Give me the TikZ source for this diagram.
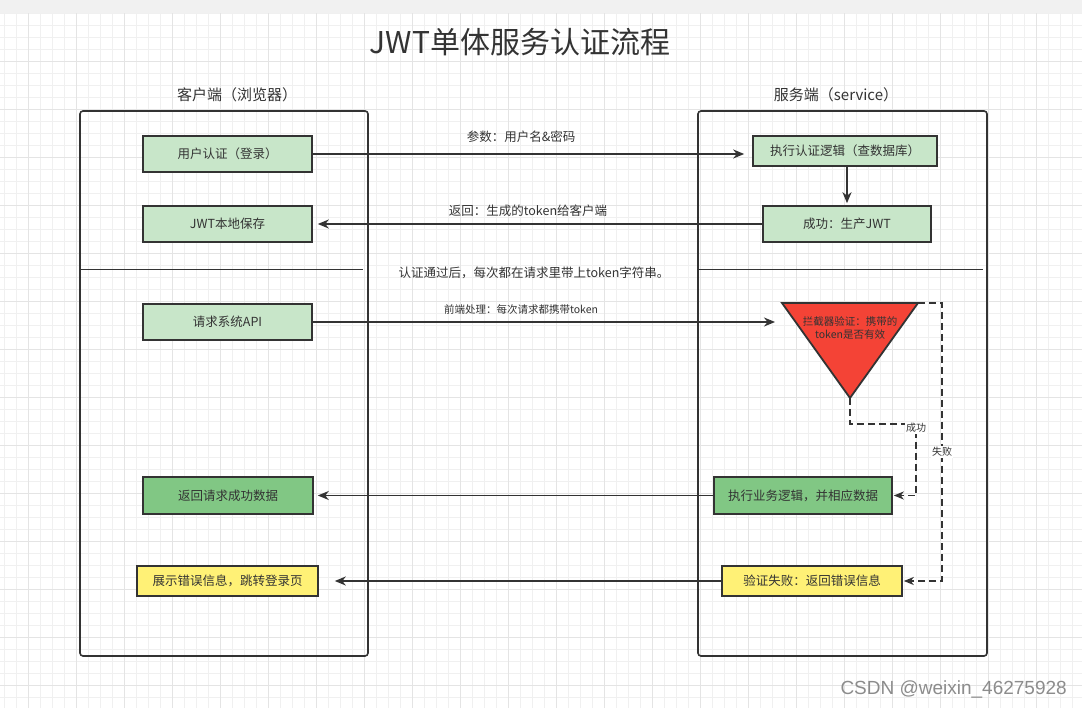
\documentclass[tikz,border=0pt]{standalone}
\usepackage{fontspec}
\setmainfont{Noto Sans CJK SC}
\newfontfamily\wmfont{Liberation Sans}
\usetikzlibrary{arrows.meta}
\definecolor{ink}{HTML}{333333}
\definecolor{topbar}{HTML}{F1F1F1}
\definecolor{gridminor}{HTML}{F0F0F0}
\definecolor{gridmajor}{HTML}{E4E4E4}
\definecolor{lgreen}{HTML}{C8E6C9}
\definecolor{mgreen}{HTML}{81C784}
\definecolor{lyellow}{HTML}{FFF176}
\definecolor{tred}{HTML}{F44336}
\definecolor{wmgray}{HTML}{8C8C8C}
\tikzset{
  fs/.style={font=\fontsize{#1}{\dimexpr #1pt*5/4\relax}\selectfont},
  box/.style={draw=ink, line width=1.6pt, text=ink, inner sep=0pt, fs=12.5},
  gbox/.style={box, fill=lgreen},
  mbox/.style={box, fill=mgreen},
  ybox/.style={box, fill=lyellow},
  container/.style={draw=ink, line width=1.6pt, rounded corners=3pt, fill=none},
  conn/.style={draw=ink, line width=1.8pt, -{Stealth[length=11pt,width=9pt,inset=3.5pt]}},
  dconn/.style={draw=ink, line width=1.6pt, dash pattern=on 7pt off 4pt, -{Stealth[length=10pt,width=8pt,inset=3pt]}},
  lbl/.style={text=ink, inner sep=0pt, fs=12.5},
  slbl/.style={text=ink, inner sep=1pt, fs=10, fill=white},
}
\begin{document}
\begin{tikzpicture}[x=1pt,y=-1pt]
\useasboundingbox (0,0) rectangle (1082,708);
\fill[white] (0,0) rectangle (1082,708);
% grid
\foreach \k in {0,...,90} {
  \pgfmathsetmacro\gx{4+12*\k}
  \draw[gridminor, line width=0.8pt] (\gx,13) -- (\gx,708);
}
\foreach \k in {0,...,58} {
  \pgfmathsetmacro\gy{13+12*\k}
  \draw[gridminor, line width=0.8pt] (0,\gy) -- (1082,\gy);
}
\foreach \k in {0,...,22} {
  \pgfmathsetmacro\gx{28+48*\k}
  \draw[gridmajor, line width=0.8pt] (\gx,13) -- (\gx,708);
}
\foreach \k in {0,...,14} {
  \pgfmathsetmacro\gy{61+48*\k}
  \draw[gridmajor, line width=0.8pt] (0,\gy) -- (1082,\gy);
}
\fill[topbar] (0,0) rectangle (1082,13);

% title
\node[text=ink, fs=30, inner sep=0pt] (title) at (520,42) {JWT单体服务认证流程};

% containers
\node[container, minimum width=288, minimum height=545] (client) at (224,383.5) {};
\node[container, minimum width=289, minimum height=545] (server) at (842.5,383.5) {};
\node[text=ink, fs=15, inner sep=0pt] (clientlbl) at (237,95) {客户端（浏览器）};
\node[text=ink, fs=15, inner sep=0pt] (serverlbl) at (836,95) {服务端（service）};

% separators
\draw[ink, line width=1pt] (80,270) -- (363,270);
\draw[ink, line width=1pt] (699,270) -- (983,270);
\node[lbl] (note) at (534,273) {认证通过后，每次都在请求里带上token字符串。};

% client boxes
\node[gbox, minimum width=169, minimum height=36] (auth) at (227.5,154) {用户认证（登录）};
\node[gbox, minimum width=169, minimum height=36] (save) at (227.5,224) {JWT本地保存};
\node[gbox, minimum width=169, minimum height=36] (req) at (227.5,322) {请求系统API};
\node[mbox, minimum width=170, minimum height=37] (okret) at (228,495.5) {返回请求成功数据};
\node[ybox, minimum width=181, minimum height=30] (errshow) at (227.5,581) {展示错误信息，跳转登录页};

% server boxes
\node[gbox, minimum width=184, minimum height=30] (logic) at (845,151) {执行认证逻辑（查数据库）};
\node[gbox, minimum width=168, minimum height=36] (jwt) at (847,224) {成功：生产JWT};
\node[mbox, minimum width=178, minimum height=37] (biz) at (803,495.5) {执行业务逻辑，并相应数据};
\node[ybox, minimum width=180, minimum height=30] (fail) at (812,581) {验证失败：返回错误信息};

% interceptor triangle
\coordinate (tl) at (782,303);
\coordinate (tr) at (918,303);
\coordinate (tb) at (850,398);
\draw[draw=ink, fill=tred, line width=1.8pt, line join=miter] (tl) -- (tr) -- (tb) -- cycle;
\node[text=ink, fs=10.5, align=center, inner sep=0pt] (tri) at (850,328) {拦截器验证：携带的\\token是否有效};
\coordinate (trin) at (775,322);

% solid connectors
\draw[conn, shorten >=8pt] (auth.east) -- (logic.west |- auth.east);
\node[lbl] (l1) at (521,137) {参数：用户名\&密码};
\draw[conn, shorten >=2pt] (logic.south -| jwt.north) -- (jwt.north);
\draw[conn, shorten >=5pt] (jwt.west) -- (save.east);
\node[lbl] (l2) at (528,211) {返回：生成的token给客户端};
\draw[conn] (req.east) -- (trin);
\node[text=ink, inner sep=0pt, fs=10.5] (l3) at (521,310) {前端处理：每次请求都携带token};
\draw[conn, shorten >=4pt] (biz.west) -- (okret.east);
\draw[conn, shorten >=16pt] (fail.west) -- (errshow.east |- fail.west);

% dashed connectors
\coordinate (s1) at (850,424);
\coordinate (s2) at (916,424);
\draw[dconn, shorten >=1pt] (tb) -- (s1) -- (s2) -- (s2 |- biz.east) -- (biz.east);
\node[slbl] (succ) at (916,428) {成功};
\coordinate (f1) at (942,303);
\draw[dconn, shorten >=1pt] (tr) -- (f1) -- (f1 |- fail.east) -- (fail.east);
\node[slbl] (failtxt) at (942,452) {失败};

% watermark
\node[text=wmgray, inner sep=0pt, anchor=east, font=\wmfont\fontsize{19}{22}\selectfont] (wm) at (1067,690) {CSDN @weixin\_46275928};
\end{tikzpicture}
\end{document}
